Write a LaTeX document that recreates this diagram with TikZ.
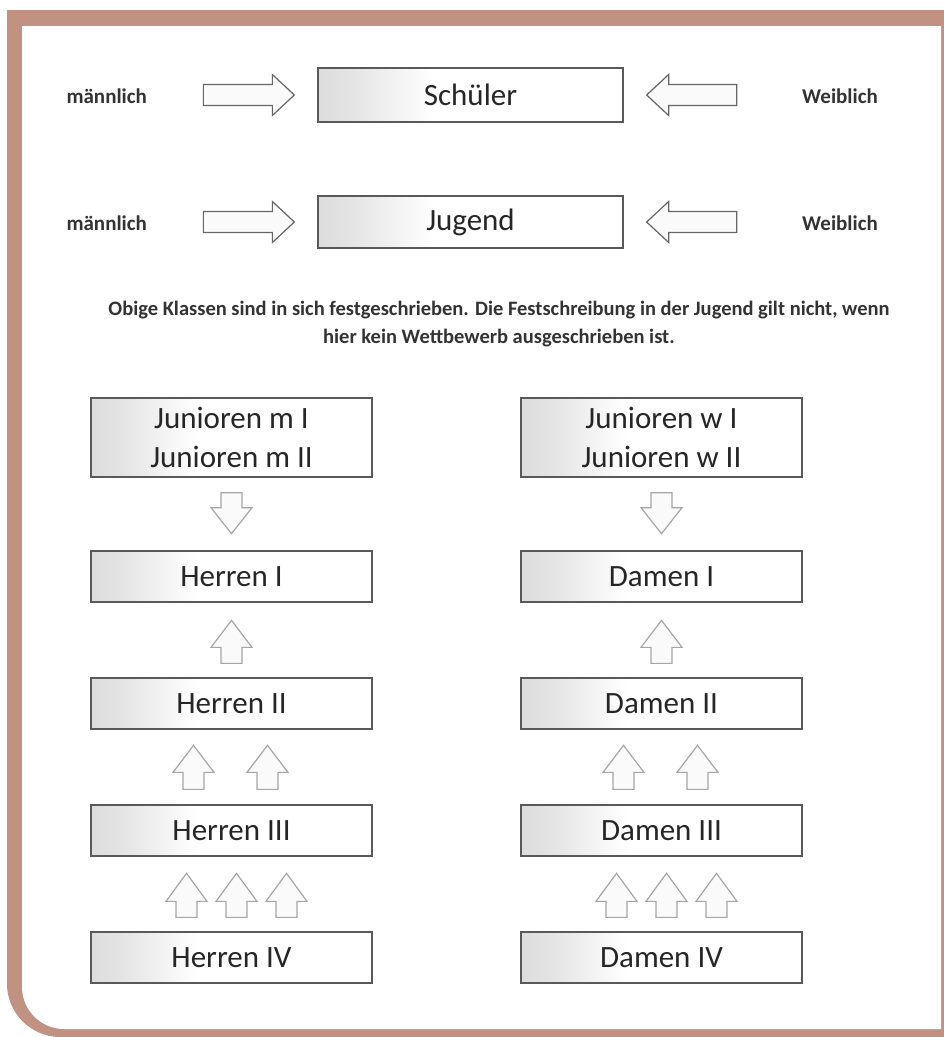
\documentclass[tikz,border=0pt]{standalone}
\usepackage{fontspec}
\setmainfont{Carlito}
\definecolor{rahmen}{RGB}{193,146,130}
\pgfdeclarehorizontalshading{kasten}{100bp}{color(0bp)=(gray!27); color(25bp)=(gray!27);
  color(30bp)=(gray!22); color(44bp)=(white); color(100bp)=(white)}
\tikzset{
  klasse/.style={draw=black!65, line width=1.3pt, shading=kasten,
    minimum width=281pt, minimum height=51pt, inner sep=0pt, align=center, text=black!85,
    font=\fontsize{31}{39}\selectfont},
  pfeil/.style={draw=black!35, line width=1.2pt, fill=gray!4, line join=miter},
  seite/.style={text=black!80, font=\bfseries\fontsize{21}{25}\selectfont}
}
% block arrow: #2 tail, #3 angle, #4 length, #5 head length
\newcommand{\blockpfeil}[5][]{%
  \draw[pfeil,#1,shift={#2},rotate=#3] (0,-10.5) -- ({#4-#5},-10.5) -- ({#4-#5},-20.5) -- (#4,0)
    -- ({#4-#5},20.5) -- ({#4-#5},10.5) -- (0,10.5) -- cycle;}
\begin{document}
\begin{tikzpicture}[x=1pt,y=-1pt]
\useasboundingbox (0,0) rectangle (944,1037);
% frame
\fill[rahmen] (7,10) -- (944,10) -- (944,1037) -- (60,1037) .. controls (31,1037) and (7,1013) .. (7,984) -- cycle;
\fill[white] (22,26) -- (941,26) -- (941,1029) -- (64,1029) .. controls (41,1029) and (22,1010) .. (22,987) -- cycle;
% top rows
\node[klasse, minimum width=305pt, minimum height=54pt] (schueler) at (470.5,95) {Schüler};
\node[klasse, minimum width=305pt, minimum height=52pt] (jugend) at (470.5,222) {Jugend};
\node[seite, anchor=base west] (m1) at (63,103) {männlich};
\node[seite, anchor=base west] (m2) at (63,230) {männlich};
\node[seite, anchor=base] (w1) at (840,103) {Weiblich};
\node[seite, anchor=base] (w2) at (840,230) {Weiblich};
\foreach \k in {schueler,jugend}{
  \blockpfeil[draw=black!60]{([xshift=-114pt]\k.west)}{0}{91}{22}
  \blockpfeil[draw=black!60]{([xshift=113pt]\k.east)}{180}{90}{22}
}
\node[text=black!80, align=center, font=\bfseries\fontsize{20.5}{28}\selectfont] (text) at (499,324)
  {Obige Klassen sind in sich festgeschrieben. Die Festschreibung in der Jugend gilt nicht, wenn\\
   hier kein Wettbewerb ausgeschrieben ist.};
% men
\node[klasse, minimum height=79pt] (jm) at (231.5,437.5) {Junioren m I\\Junioren m II};
\node[klasse] (h1) at (231.5,576.5) {Herren I};
\node[klasse] (h2) at (231.5,703.5) {Herren II};
\node[klasse] (h3) at (231.5,830.5) {Herren III};
\node[klasse] (h4) at (231.5,957.5) {Herren IV};
% women
\node[klasse, minimum height=79pt] (jw) at (661.5,437.5) {Junioren w I\\Junioren w II};
\node[klasse] (d1) at (661.5,576.5) {Damen I};
\node[klasse] (d2) at (661.5,703.5) {Damen II};
\node[klasse] (d3) at (661.5,830.5) {Damen III};
\node[klasse] (d4) at (661.5,957.5) {Damen IV};
% arrows
\foreach \j/\a/\b/\c/\d in {jm/h1/h2/h3/h4, jw/d1/d2/d3/d4}{
  \blockpfeil{([yshift=-15pt]\j.south)}{-90}{41}{26}
  \blockpfeil{([yshift=14pt]\b.north)}{90}{43}{27}
  \foreach \dx in {-38,36} {\blockpfeil{([xshift=\dx pt,yshift=15pt]\c.north)}{90}{44}{27}}
  \foreach \dx in {-45,5,55} {\blockpfeil{([xshift=\dx pt,yshift=14pt]\d.north)}{90}{44}{28}}
}
\end{tikzpicture}
\end{document}
